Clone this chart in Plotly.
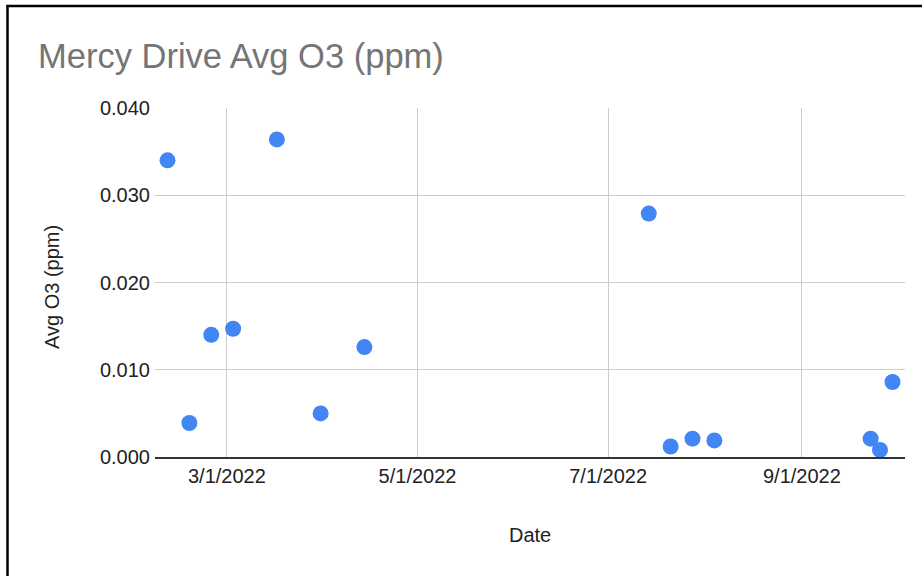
import plotly.graph_objects as go

dates = ["2022-02-10", "2022-02-17", "2022-02-24", "2022-03-03", "2022-03-17",
         "2022-03-31", "2022-04-14", "2022-07-14", "2022-07-21", "2022-07-28",
         "2022-08-04", "2022-09-23", "2022-09-26", "2022-09-30"]
o3 = [0.0340, 0.0039, 0.0140, 0.0147, 0.0364,
      0.0050, 0.0126, 0.0279, 0.0012, 0.0021,
      0.0019, 0.0021, 0.0008, 0.0086]

x_tickvals = ["2022-03-01", "2022-05-01", "2022-07-01", "2022-09-01"]
x_ticktext = ["3/1/2022", "5/1/2022", "7/1/2022", "9/1/2022"]
y_tickvals = [0.0, 0.01, 0.02, 0.03, 0.04]
y_ticktext = ["0.000", "0.010", "0.020", "0.030", "0.040"]

W, H = 922, 576
L, R, T, B = 155, 17, 108, 119
pw, ph = W - L - R, H - T - B

def px(xpix):
    return (xpix - L) / pw

def py(ypix):
    return (H - B - ypix) / ph

fig = go.Figure()
fig.add_trace(go.Scatter(
    x=dates, y=o3, mode="markers",
    marker=dict(size=16, color="#4285F4", line=dict(width=0)),
    cliponaxis=False, showlegend=False,
))

font_family = "Arial, Liberation Sans, sans-serif"

fig.update_layout(
    width=W, height=H,
    margin=dict(l=L, r=R, t=T, b=B),
    paper_bgcolor="white", plot_bgcolor="white",
    font=dict(family=font_family, size=20, color="#222222"),
    title=dict(text="Mercy Drive Avg O3 (ppm)", x=38 / W, xanchor="left",
               xref="container", yref="container", y=1 - 56 / H, yanchor="middle",
               font=dict(size=34.5, color="#757575", family=font_family)),
    xaxis=dict(range=["2022-02-06", "2022-10-04"], tickvals=x_tickvals, ticktext=x_ticktext,
               showgrid=True, gridcolor="#cccccc", gridwidth=1.3, zeroline=False,
               showline=True, linecolor="#333333", linewidth=1.6,
               ticks="", tickfont=dict(size=20, color="#222222")),
    yaxis=dict(range=[0, 0.04], tickvals=y_tickvals, ticktext=y_ticktext,
               showgrid=True, gridcolor="#cccccc", gridwidth=1.3, zeroline=False,
               showline=False, ticks="", ticklabelstandoff=4,
               tickfont=dict(size=20, color="#222222")),
    annotations=[
        dict(text="Date", xref="paper", yref="paper", x=px(530), y=py(535),
             xanchor="center", yanchor="middle", showarrow=False,
             font=dict(size=20, color="#222222")),
        dict(text="Avg O3 (ppm)", xref="paper", yref="paper", x=px(52), y=py(287),
             xanchor="center", yanchor="middle", textangle=-90, showarrow=False,
             font=dict(size=20, color="#222222")),
    ],
    shapes=[
        dict(type="line", xref="paper", yref="paper", x0=px(7.5), x1=px(7.5),
             y0=py(5), y1=py(H + 5), line=dict(color="black", width=2.5)),
        dict(type="line", xref="paper", yref="paper", x0=px(6.5), x1=px(W + 5),
             y0=py(6), y1=py(6), line=dict(color="black", width=2.5)),
    ],
)

fig.write_html("out.html",
               config={"displayModeBar": False},
               post_script="document.body.style.margin='0';document.body.style.overflow='hidden';")
